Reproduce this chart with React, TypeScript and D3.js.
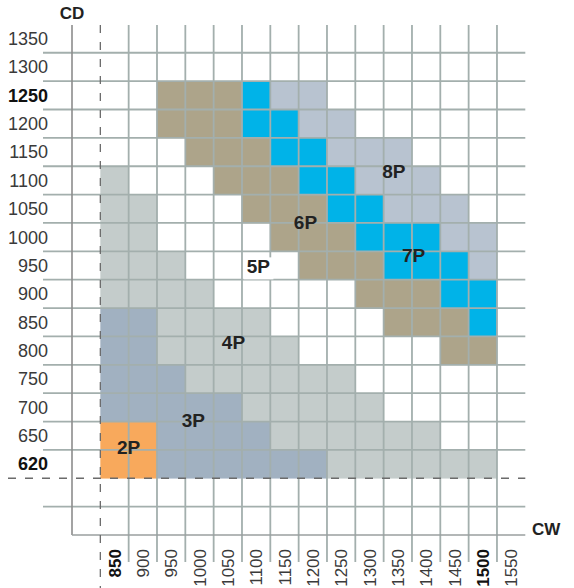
import { useMemo } from 'react';
import * as d3 from 'd3';

// CW (columns) and CD (rows) categories
const cwValues = ['850', '900', '950', '1000', '1050', '1100', '1150', '1200', '1250', '1300', '1350', '1400', '1450', '1500', '1550'];
const cdValues = ['1350', '1300', '1250', '1200', '1150', '1100', '1050', '1000', '950', '900', '850', '800', '750', '700', '650', '620'];
const boldCw = ['850', '1500'];
const boldCd = ['1250', '620'];

// one string per CD row, one char per CW column: number of persons, '.' = empty
const cellRows = [
    '...............', // 1350
    '...............', // 1300
    '..666788.......', // 1250
    '..6667788......', // 1200
    '...66677888....', // 1150
    '4...66677888...', // 1100
    '44...66677888..', // 1050
    '44....66677788.', // 1000
    '444....6667778.', // 950
    '4444.....66677.', // 900
    '334444....6667.', // 850
    '3344444.....66.', // 800
    '333444444......', // 750
    '3333344444.....', // 700
    '223333444444...', // 650
    '22333333444444.', // 620
];

const groupColors: Record<string, string> = {
    '2': '#f8a95c',
    '3': '#a1b1c1',
    '4': '#c4cccb',
    '6': '#ada48a',
    '7': '#00b3e8',
    '8': '#b8c3d0',
};

// label anchor: cell + fraction inside the cell
const groupLabels = [
    { text: '2P', cw: '850', cd: '650', fx: 1.0, fy: 0.92, box: false },
    { text: '3P', cw: '1000', cd: '700', fx: 0.28, fy: 0.96, box: false },
    { text: '4P', cw: '1050', cd: '800', fx: 0.7, fy: 0.21, box: false },
    { text: '5P', cw: '1100', cd: '950', fx: 0.58, fy: 0.53, box: true },
    { text: '6P', cw: '1200', cd: '1050', fx: 0.24, fy: 0.98, box: false },
    { text: '7P', cw: '1400', cd: '950', fx: 0.06, fy: 0.12, box: false },
    { text: '8P', cw: '1350', cd: '1100', fx: 0.36, fy: 0.16, box: false },
];

const W = 574;
const H = 588;
const FONT = '"Liberation Sans Narrow", "Arial Narrow", "Liberation Sans", sans-serif';
const GRID = '#a3afad';

export default function App() {
    const left = 72, right = 525.3, top = 24.4, bottom = 535;

    const x = useMemo(() => d3.scaleBand<string>().domain(['_', ...cwValues]).range([left, right]).padding(0), []);
    const y = useMemo(() => d3.scaleBand<string>().domain([...cdValues, '_a', '_b']).range([top, bottom]).padding(0), []);
    const bw = x.bandwidth();
    const bh = y.bandwidth();

    const cells: { cw: string; cd: string; g: string }[] = [];
    cellRows.forEach((row, ri) => {
        row.split('').forEach((g, ci) => {
            if (g !== '.') cells.push({ cw: cwValues[ci], cd: cdValues[ri], g });
        });
    });

    const yDomain = y.domain();
    const xDomain = x.domain();
    const dashedY = y('_a')!;
    const dashedX = x(cwValues[0])!;

    return (
        <>
            <style>{'body{margin:0}'}</style>
            <svg width={W} height={H} style={{ display: 'block' }}>
                {cells.map((c, i) => (
                    <rect key={i} x={x(c.cw)} y={y(c.cd)} width={bw + 0.3} height={bh + 0.3} fill={groupColors[c.g]} />
                ))}

                {/* horizontal grid */}
                {yDomain.slice(1).map((d) => {
                    const yy = y(d)!;
                    if (d === '_a') return null;
                    return <line key={'h' + d} x1={43} x2={right} y1={yy} y2={yy} stroke={GRID} strokeWidth={1.8} />;
                })}
                {/* vertical grid */}
                {xDomain.slice(2).map((d) => {
                    const xx = x(d)!;
                    return <line key={'v' + d} x1={xx} x2={xx} y1={25} y2={562} stroke={GRID} strokeWidth={1.8} />;
                })}

                {/* axes */}
                <line x1={left} x2={left} y1={25} y2={bottom} stroke="#8c8c8c" strokeWidth={1.6} />
                <line x1={left} x2={right} y1={bottom} y2={bottom} stroke="#9a9f9f" strokeWidth={1.6} />

                {/* minimum size dashed lines */}
                <line x1={8} x2={right} y1={dashedY} y2={dashedY} stroke="#6b6b6b" strokeWidth={1.3} strokeDasharray="8,9" />
                <line x1={dashedX} x2={dashedX} y1={25} y2={H} stroke="#6b6b6b" strokeWidth={1.3} strokeDasharray="8,9" />

                {/* group labels */}
                {groupLabels.map((l) => {
                    const lx = x(l.cw)! + bw * l.fx;
                    const ly = y(l.cd)! + bh * l.fy;
                    return (
                        <g key={l.text}>
                            {l.box && <rect x={lx - 15} y={ly - 9} width={30} height={22} fill="#fff" />}
                            <text x={lx} y={ly + 6.8} textAnchor="middle" fontFamily={FONT} fontWeight="bold" fontSize={19} fill="#222">
                                {l.text}
                            </text>
                        </g>
                    );
                })}

                {/* y tick labels */}
                {cdValues.map((d) => (
                    <text key={'yl' + d} x={48} y={y(d)! + bh / 2 + 6.4} textAnchor="end" fontFamily={FONT} fontSize={18}
                        fontWeight={boldCd.includes(d) ? 'bold' : 'normal'} fill={boldCd.includes(d) ? '#111' : '#3a3a3a'}>
                        {d}
                    </text>
                ))}
                {/* x tick labels */}
                {cwValues.map((d) => {
                    const cx = x(d)! + bw / 2 + 6.1;
                    return (
                        <text key={'xl' + d} transform={`translate(${cx},549) rotate(-90)`} textAnchor="end" fontFamily={FONT} fontSize={17}
                            fontWeight={boldCw.includes(d) ? 'bold' : 'normal'} fill={boldCw.includes(d) ? '#111' : '#3a3a3a'}>
                            {d}
                        </text>
                    );
                })}

                {/* axis titles */}
                <text x={left} y={19} textAnchor="middle" fontFamily={FONT} fontWeight="bold" fontSize={17} fill="#222">CD</text>
                <text x={532} y={535} fontFamily={FONT} fontWeight="bold" fontSize={17} fill="#222">CW</text>
            </svg>
        </>
    );
}
